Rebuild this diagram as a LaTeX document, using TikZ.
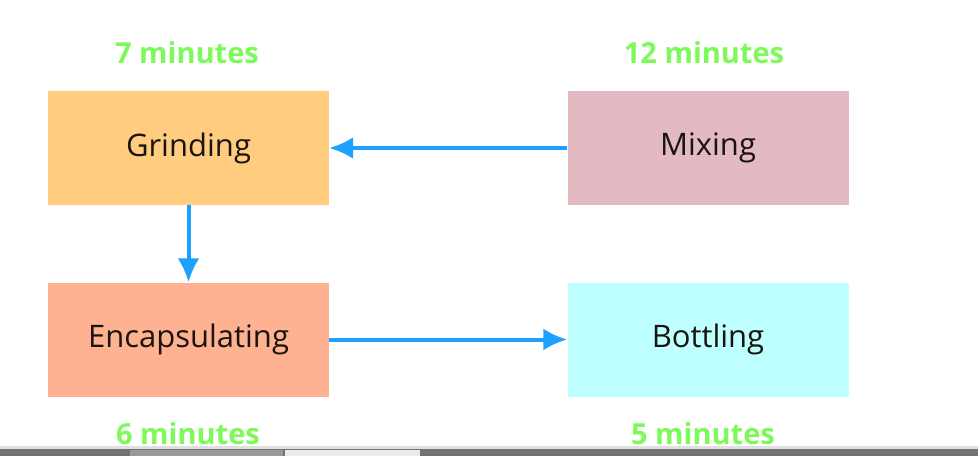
\documentclass[tikz,border=0pt]{standalone}
\usepackage{fontspec}
\setmainfont{Open Sans}
\usetikzlibrary{arrows.meta}
\definecolor{cgrind}{RGB}{255,204,128}
\definecolor{cmix}{RGB}{228,186,194}
\definecolor{cenc}{RGB}{255,178,146}
\definecolor{cbot}{RGB}{190,255,255}
\definecolor{carrow}{RGB}{30,160,255}
\definecolor{cgreen}{RGB}{125,250,90}
\definecolor{ctext}{RGB}{25,20,15}
\tikzset{
  stepbox/.style={draw=none, minimum width=281pt, minimum height=114pt, inner sep=0pt,
    font=\fontsize{31}{36}\selectfont, text=ctext},
  timelabel/.style={font=\bfseries\fontsize{29}{34}\selectfont, text=cgreen, inner sep=0pt},
  flow/.style={draw=carrow, line width=4pt, -{Latex[length=24pt,width=22pt]}}
}
\begin{document}
\begin{tikzpicture}[x=1pt,y=-1pt]
\useasboundingbox (0,0) rectangle (978,456);
\fill[white] (0,0) rectangle (978,456);
% bottom window strip
\fill[black!12] (0,446) rectangle (978,449);
\fill[black!55] (0,449) rectangle (978,456);
\fill[black!40] (130,450) rectangle (283,456);
\fill[black!8] (285,450) rectangle (420,456);
\node[stepbox, fill=cgrind] (grind) at (188.5,148) {Grinding};
\node[stepbox, fill=cmix] (mix) at (708,148) {Mixing};
\node[stepbox, fill=cenc] (enc) at (188.5,339.5) {Encapsulating};
\node[stepbox, fill=cbot] (bot) at (708,339.5) {Bottling};
\node[timelabel] (t7) at (187,53) {7 minutes};
\node[timelabel] (t12) at (704,53) {12 minutes};
\node[timelabel] (t6) at (188,434) {6 minutes};
\node[timelabel] (t5) at (703,434) {5 minutes};
\draw[flow] (mix.west) -- (grind.east);
\draw[flow] (grind.south) -- (enc.north);
\draw[flow] (enc.east) -- (bot.west);
\end{tikzpicture}
\end{document}
